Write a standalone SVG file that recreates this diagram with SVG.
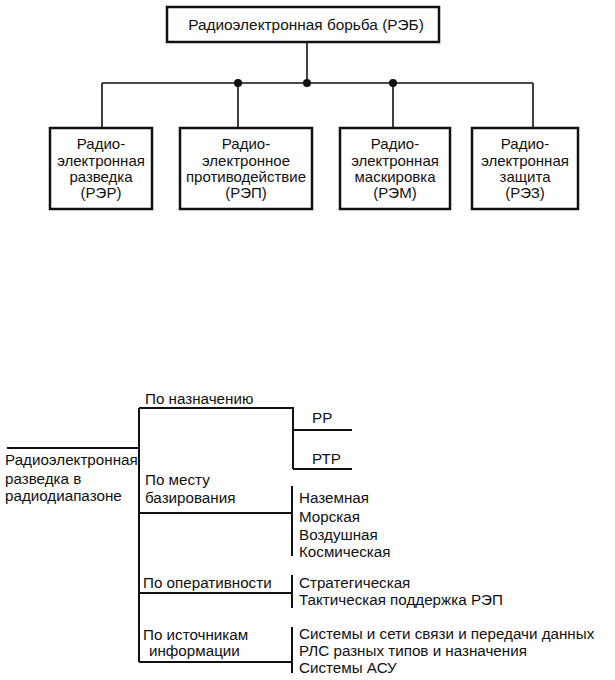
<svg xmlns="http://www.w3.org/2000/svg" width="615" height="680" viewBox="0 0 615 680">
<style>
text{font-family:"Liberation Sans",Arial,sans-serif;font-size:15.2px;fill:#111}
.c{text-anchor:middle;font-size:15px}
.box{fill:#fff;stroke:#111;stroke-width:2.5}
.ln{fill:none;stroke:#111;stroke-width:1.6}
.lb{fill:none;stroke:#111;stroke-width:2}
.dot{fill:#111}
</style>
<rect width="615" height="680" fill="#fff"/>
<g id="connectors">
<path class="ln" d="M307 42V83M102 83H533M102 83V128M238 83V128M393 83V128M533 83V128"/>
<circle class="dot" cx="238" cy="83" r="4"/>
<circle class="dot" cx="307" cy="83" r="4"/>
<circle class="dot" cx="393" cy="83" r="4"/>
<path class="lb" d="M7 448H139M139 408V662M139 408H293V469M293 430H352M293 469H352M139 513H292M292 486V556M139 593H292M292 575V608M139 662H292M292 627V673"/>
</g>
<g id="reb">
<rect class="box" x="167" y="7" width="272" height="35"/>
<text class="c" x="306" y="30" style="font-size:15.4px">Радиоэлектронная борьба (РЭБ)</text>
</g>
<g id="rer">
<rect class="box" x="50" y="128" width="102" height="81"/>
<text class="c" x="101" y="149">Радио-</text>
<text class="c" x="101" y="166">электронная</text>
<text class="c" x="101" y="182">разведка</text>
<text class="c" x="101" y="198">(РЭР)</text>
</g>
<g id="rep">
<rect class="box" x="180" y="128" width="132" height="81"/>
<text class="c" x="246" y="149">Радио-</text>
<text class="c" x="246" y="166">электронное</text>
<text class="c" x="246" y="182">противодействие</text>
<text class="c" x="246" y="198">(РЭП)</text>
</g>
<g id="rem">
<rect class="box" x="340" y="128" width="110" height="81"/>
<text class="c" x="395" y="149">Радио-</text>
<text class="c" x="395" y="166">электронная</text>
<text class="c" x="395" y="182">маскировка</text>
<text class="c" x="395" y="198">(РЭМ)</text>
</g>
<g id="rez">
<rect class="box" x="472" y="128" width="106" height="81"/>
<text class="c" x="525" y="149">Радио-</text>
<text class="c" x="525" y="166">электронная</text>
<text class="c" x="525" y="182">защита</text>
<text class="c" x="525" y="198">(РЭЗ)</text>
</g>
<g id="root">
<text x="5" y="465">Радиоэлектронная</text>
<text x="5" y="484">разведка в</text>
<text x="5" y="501">радиодиапазоне</text>
</g>
<g id="purpose">
<text x="145" y="404">По назначению</text>
</g>
<g id="rr"><text x="312" y="423">РР</text></g>
<g id="rtr"><text x="312" y="464">РТР</text></g>
<g id="basing">
<text x="145" y="485">По месту</text>
<text x="145" y="503">базирования</text>
</g>
<g id="basing-list">
<text x="299" y="503">Наземная</text>
<text x="299" y="522">Морская</text>
<text x="299" y="540">Воздушная</text>
<text x="299" y="557">Космическая</text>
</g>
<g id="operative">
<text x="143" y="588">По оперативности</text>
</g>
<g id="operative-list">
<text x="299" y="588">Стратегическая</text>
<text x="299" y="605">Тактическая поддержка РЭП</text>
</g>
<g id="sources">
<text x="143" y="640">По источникам</text>
<text x="149" y="656">информации</text>
</g>
<g id="sources-list">
<text x="299" y="639">Системы и сети связи и передачи данных</text>
<text x="299" y="656">РЛС разных типов и назначения</text>
<text x="299" y="673">Системы АСУ</text>
</g>
</svg>
